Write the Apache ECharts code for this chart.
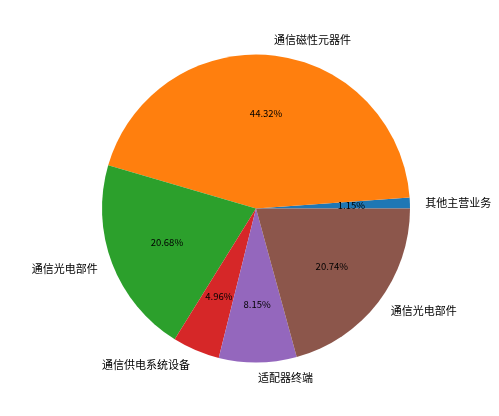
<!DOCTYPE html>
<html>
<head>
<meta charset="utf-8">
<script src="https://cdn.jsdelivr.net/npm/echarts@6/dist/echarts.min.js"></script>
<style>
html,body{margin:0;padding:0;background:#fff;}
#chart{width:499px;height:416px;}
</style>
</head>
<body>
<div id="chart"></div>
<script>
var categories = ['其他主营业务', '通信磁性元器件', '通信光电部件', '通信供电系统设备', '适配器终端', '通信光电部件'];
var values = [1.15, 44.32, 20.68, 4.96, 8.15, 20.74];
var colors = ['#1f77b4', '#ff7f0e', '#2ca02c', '#d62728', '#9467bd', '#8c564b'];

var R = 154;
var cx = 256, cy = 208.5;

var mainData = categories.map(function (c, i) {
  return { name: c, value: values[i], itemStyle: { color: colors[i] } };
});
var pctData = categories.map(function (c, i) {
  return { name: c + '#' + i, value: values[i] };
});

var chart = echarts.init(document.getElementById('chart'), null, { renderer: 'canvas' });
chart.setOption({
  backgroundColor: '#fff',
  animation: false,
  series: [
    {
      type: 'pie',
      center: [cx, cy],
      radius: [0, R],
      startAngle: 0,
      clockwise: false,
      avoidLabelOverlap: false,
      silent: true,
      data: mainData,
      label: {
        show: true,
        position: 'outside',
        color: '#000',
        fontSize: 11,
        fontFamily: 'Noto Sans CJK SC',
        distanceToLabelLine: 0,
        formatter: '{b}'
      },
      labelLine: { show: false, length: R * 0.1, length2: 0 },
      emphasis: { disabled: true }
    },
    {
      type: 'pie',
      center: [cx, cy],
      radius: [0, R * 1.2],
      startAngle: 0,
      clockwise: false,
      avoidLabelOverlap: false,
      silent: true,
      z: 5,
      data: pctData,
      itemStyle: { color: 'rgba(0,0,0,0)' },
      label: {
        show: true,
        position: 'inside',
        color: '#000',
        fontSize: 9.5,
        fontFamily: 'Noto Sans CJK SC',
        formatter: function (p) { return p.value.toFixed(2) + '%'; }
      },
      labelLine: { show: false },
      emphasis: { disabled: true }
    }
  ]
});
</script>
</body>
</html>
